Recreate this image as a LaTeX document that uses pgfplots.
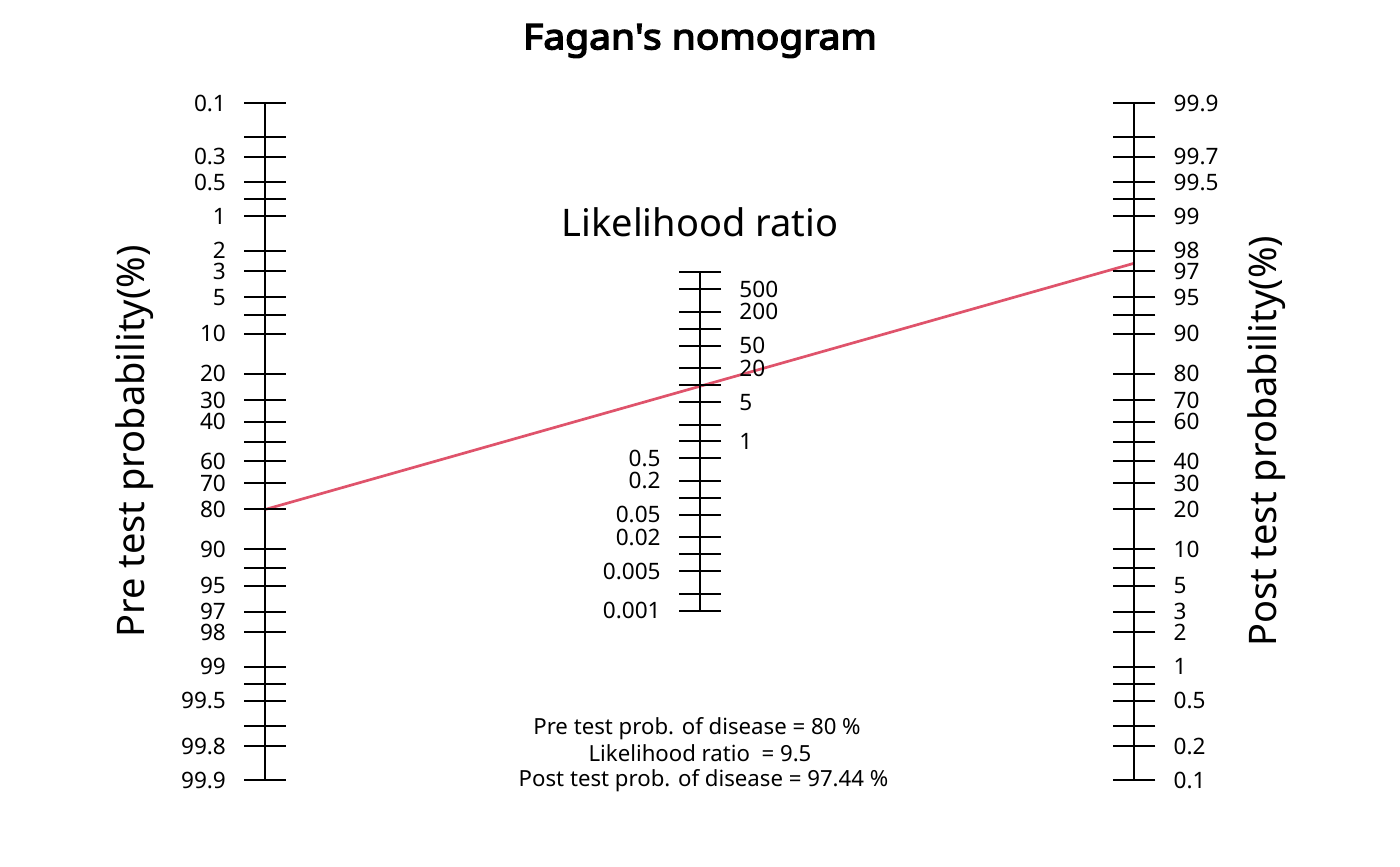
\documentclass[border=0pt]{standalone}
\usepackage{pgfplots}
\pgfplotsset{compat=1.18}
\usepackage{fontspec}
\setmainfont{Noto Sans}
\newfontfamily\titlefont{Noto Sans}[FakeBold=4, FakeStretch=1.1]
\definecolor{lrred}{HTML}{DF536B}

% one scale of the nomogram: a bare y axis line with centred ticks
\pgfplotsset{
    nomoscale/.style={
        scale only axis, width=1pt, xmin=0, xmax=1,
        axis x line=none,
        tick align=center, major tick length=21pt,
        tick style={black, line width=1pt},
        axis line style={black, line width=1pt},
        tick label style={font=\fontsize{11.3}{13}\selectfont, inner sep=0pt},
        yticklabel shift=9pt,
    },
}

\begin{document}
\begin{tikzpicture}
    \useasboundingbox (0,0) rectangle (700pt,433pt);

    % main frame: x in pixels, y in log10 odds
    \begin{axis}[
        name=main, at={(0,0)}, anchor=south west,
        scale only axis, width=700pt, height=433pt,
        xmin=0, xmax=1400, ymin=-3.76163, ymax=3.91227,
        hide axis, clip=false,
        ]
        \addplot[color=lrred, line width=1.35pt, mark=none] coordinates {
            (265.3,-0.60206)
            (1134.3,1.57978)
        };
        \node[anchor=base, font=\titlefont\fontsize{17.7}{21}\selectfont]
            at (axis cs:700,3.4754) {Fagan\textquotesingle s nomogram};
        \node[anchor=base, font=\fontsize{19}{23}\selectfont]
            at (axis cs:700,1.8148) {Likelihood ratio};
        \node[rotate=90, anchor=base, font=\fontsize{19}{23}\selectfont]
            at (axis cs:144,0) {Pre test probability(\%)};
        \node[rotate=90, anchor=base, font=\fontsize{19}{23}\selectfont]
            at (axis cs:1276,0) {Post test probability(\%)};
        \node[anchor=base, font=\fontsize{11.1}{13}\selectfont]
            at (axis cs:697,-2.595) {Pre test prob. of disease = 80 \%};
        \node[anchor=base, font=\fontsize{11.1}{13}\selectfont]
            at (axis cs:700,-2.834) {Likelihood ratio~ = 9.5};
        \node[anchor=base, font=\fontsize{11.1}{13}\selectfont]
            at (axis cs:703.5,-3.053) {Post test prob. of disease = 97.44 \%};
    \end{axis}

    % pre test probability
    \begin{axis}[
        nomoscale, at={(132.65pt,42.97pt)}, anchor=south west,
        height=338.55pt, ymin=-3, ymax=3,
        axis y line*=left,
        ytick={-2.99957,-2.69810,-2.52157,-2.29885,-2.15186,-1.99564,-1.69020,
               -1.50966,-1.27875,-1.12338,-0.95424,-0.60206,-0.36798,-0.17609,0,
               0.17609,0.36798,0.60206,0.95424,1.12338,1.27875,1.50966,1.69020,
               1.99564,2.15186,2.29885,2.52157,2.69810,2.99957},
        yticklabels={99.9,99.8,{},99.5,{},99,98,97,95,{},90,80,70,60,{},
                     40,30,20,10,{},5,3,2,1,{},0.5,0.3,{},0.1},
        ]
    \end{axis}

    % post test probability
    \begin{axis}[
        nomoscale, at={(567.15pt,42.97pt)}, anchor=south east,
        height=338.55pt, ymin=-3, ymax=3,
        axis y line*=right,
        ytick={-2.99957,-2.69810,-2.52157,-2.29885,-2.15186,-1.99564,-1.69020,
               -1.50966,-1.27875,-1.12338,-0.95424,-0.60206,-0.36798,-0.17609,0,
               0.17609,0.36798,0.60206,0.95424,1.12338,1.27875,1.50966,1.69020,
               1.99564,2.15186,2.29885,2.52157,2.69810,2.99957},
        yticklabels={0.1,0.2,{},0.5,{},1,2,3,5,{},10,20,30,40,{},
                     60,70,80,90,{},95,97,98,99,{},99.5,99.7,{},99.9},
        ]
    \end{axis}

    % likelihood ratio, values below 1 labelled on the left
    \begin{axis}[
        nomoscale, at={(350pt,127.61pt)}, anchor=south west,
        height=169.28pt, ymin=-1.5, ymax=1.5,
        axis y line*=left,
        ytick={-1.5,-1.349485,-1.150515,-1,-0.849485,-0.650515,-0.5,-0.349485,-0.150515},
        yticklabels={0.001,{},0.005,{},0.02,0.05,{},0.2,0.5},
        ]
    \end{axis}

    % likelihood ratio, values from 1 up labelled on the right
    \begin{axis}[
        nomoscale, at={(350pt,127.61pt)}, anchor=south east,
        height=169.28pt, ymin=-1.5, ymax=1.5,
        axis y line*=right,
        ytick={0,0.150515,0.349485,0.5,0.650515,0.849485,1,1.150515,1.349485,1.5},
        yticklabels={1,{},5,{},20,50,{},200,500,{}},
        ]
    \end{axis}
\end{tikzpicture}
\end{document}
